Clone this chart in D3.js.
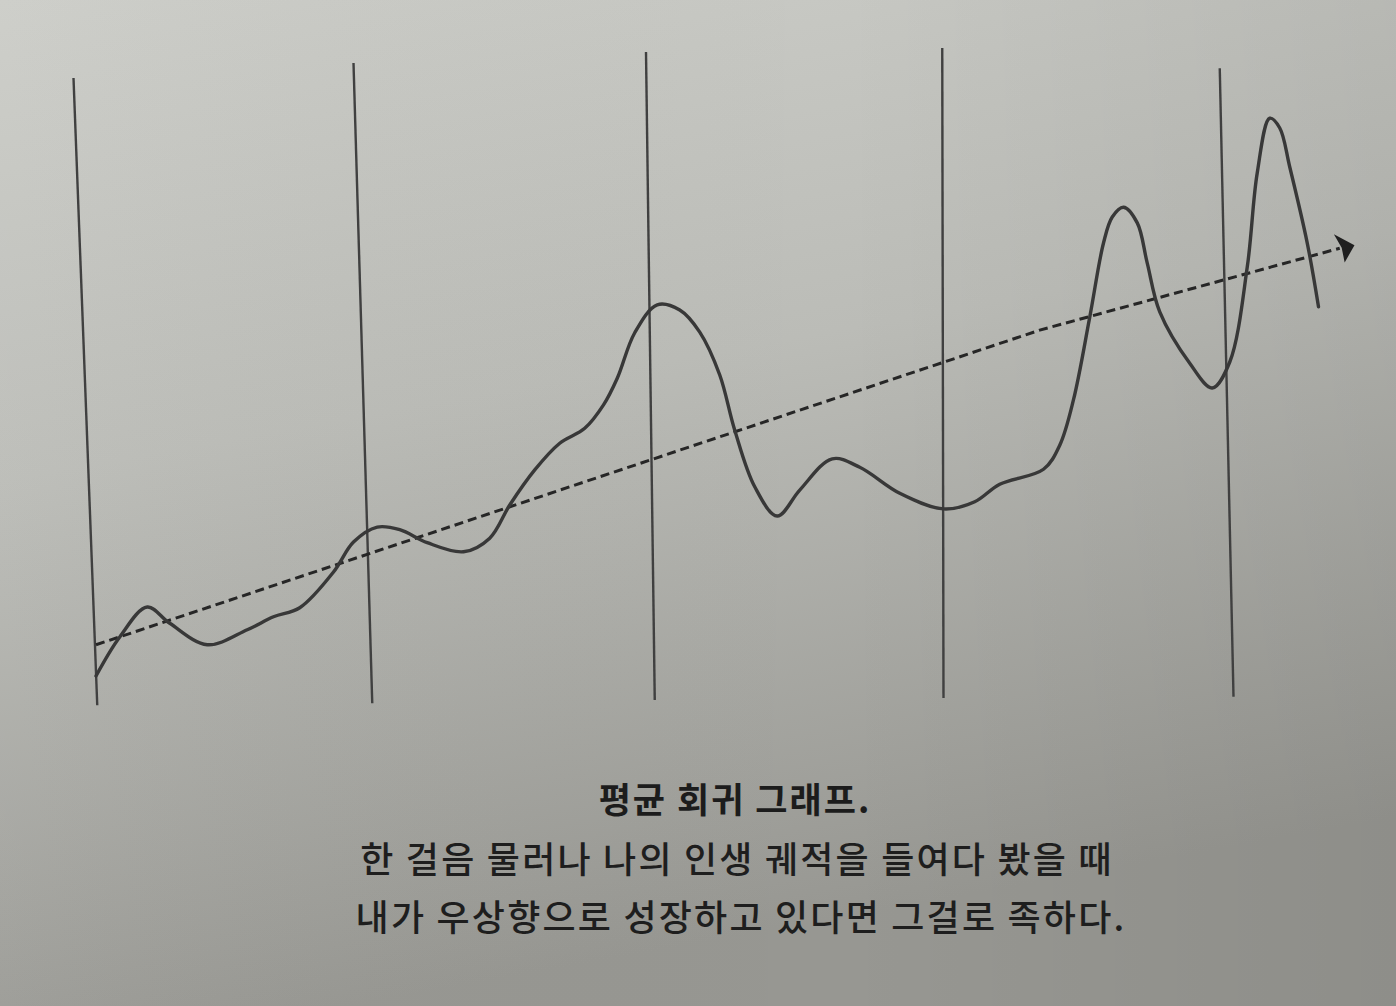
<!DOCTYPE html>
<html>
<head>
<meta charset="utf-8">
<script src="https://cdn.jsdelivr.net/npm/d3@7/dist/d3.min.js"></script>
<style>
  html, body { margin: 0; padding: 0; background: #b5b6b1; }
  svg { display: block; }
</style>
</head>
<body>
<svg id="chart" width="1396" height="1006"></svg>
<script>
// ---- data (x: time units 0..100, y: value units 0..100) ----
const lifeX = [0, 1.9, 4.1, 5.9, 8.9, 12.1, 14.2, 16.3, 19.0, 20.6, 22.5, 24.3, 26.5, 29.4, 31.5, 33.1, 35.1, 37.1, 39.1, 40.6, 41.7, 43.1, 44.9, 46.7, 48.3, 49.9, 51.1, 52.7, 54.5, 56.3, 58.9, 61.1, 64.3, 67.8, 70.3, 72.3, 75.8, 77.1, 78.2, 79.5, 80.6, 81.3, 82.2, 83.3, 84.1, 85.1, 87.5, 89.3, 90.7, 92.1, 92.9, 93.9, 94.7, 95.5, 96.9, 97.8];
const lifeY = [3.7, 9.7, 14.3, 11.8, 8.5, 10.8, 12.8, 14.2, 19.7, 24.3, 26.6, 26.2, 24.2, 22.8, 24.9, 30.0, 35.4, 39.5, 41.8, 45.4, 49.5, 56.5, 60.8, 60.0, 56.6, 50.0, 41.5, 32.8, 28.3, 32.3, 37.1, 35.8, 31.8, 29.4, 30.5, 33.2, 35.5, 39.2, 46.2, 58.9, 70.3, 74.3, 75.8, 73.4, 67.2, 59.7, 51.8, 48.0, 52.0, 66.6, 81.1, 89.5, 88.0, 82.0, 70.3, 60.5];

const trendX = [0, 75.5, 99.5];
const trendY = [8.5, 56.9, 69.5];

const sepTopX    = [-1.8, 20.6, 44.0, 67.7, 89.9];
const sepBottomX = [0.1, 22.1, 44.7, 67.8, 91.0];
const sepTopY    = [95.7, 98.0, 99.7, 100.3, 97.2];
const sepBottomY = [-0.8, -0.5, 0.0, 0.3, 0.5];

const titleText = "평균 회귀 그래프.";
const captionLines = [
  "한 걸음 물러나 나의 인생 궤적을 들여다 봤을 때",
  "내가 우상향으로 성장하고 있다면 그걸로 족하다."
];

// ---- drawing ----
const W = 1396, H = 1006;
const svg = d3.select("#chart");

const defs = svg.append("defs");
const bg = defs.append("linearGradient").attr("id", "bg")
  .attr("x1", "0").attr("y1", "0").attr("x2", "0.25").attr("y2", "1");
bg.append("stop").attr("offset", "0%").attr("stop-color", "#cccdc8");
bg.append("stop").attr("offset", "45%").attr("stop-color", "#bbbcb7");
bg.append("stop").attr("offset", "100%").attr("stop-color", "#979792");

const shade = defs.append("linearGradient").attr("id", "shade")
  .attr("x1", "0").attr("y1", "0").attr("x2", "1").attr("y2", "0");
shade.append("stop").attr("offset", "0%").attr("stop-color", "#ffffff").attr("stop-opacity", 0.04);
shade.append("stop").attr("offset", "60%").attr("stop-color", "#000000").attr("stop-opacity", 0);
shade.append("stop").attr("offset", "100%").attr("stop-color", "#000000").attr("stop-opacity", 0.06);

defs.append("marker")
  .attr("id", "arrow")
  .attr("viewBox", "-2 -18 20 36")
  .attr("refX", 0).attr("refY", 0)
  .attr("markerWidth", 20).attr("markerHeight", 36)
  .attr("markerUnits", "userSpaceOnUse")
  .attr("orient", "auto")
  .append("path")
  .attr("d", "M-2,-15 L15,1 L1,15 L2,0 Z")
  .attr("fill", "#1f1f1f");

svg.append("rect").attr("width", W).attr("height", H).attr("fill", "url(#bg)");
svg.append("rect").attr("width", W).attr("height", H).attr("fill", "url(#shade)");

const x = d3.scaleLinear().domain([0, 100]).range([96, 1346]);
const y = d3.scaleLinear().domain([0, 100]).range([700, 50]);

// separators
const seps = sepTopX.map((d, i) => ({ tx: d, bx: sepBottomX[i], ty: sepTopY[i], by: sepBottomY[i] }));
svg.append("g").selectAll("line").data(seps).join("line")
  .attr("x1", d => x(d.tx)).attr("y1", d => y(d.ty))
  .attr("x2", d => x(d.bx)).attr("y2", d => y(d.by))
  .attr("stroke", "#404040").attr("stroke-width", 2.4);

// trend line
const trend = trendX.map((d, i) => [d, trendY[i]]);
svg.append("path")
  .datum(trend)
  .attr("d", d3.line().x(d => x(d[0])).y(d => y(d[1])))
  .attr("fill", "none")
  .attr("stroke", "#262626")
  .attr("stroke-width", 3)
  .attr("stroke-dasharray", "9,5")
  .attr("marker-end", "url(#arrow)");

// life curve
const life = lifeX.map((d, i) => [d, lifeY[i]]);
svg.append("path")
  .datum(life)
  .attr("d", d3.line().x(d => x(d[0])).y(d => y(d[1])).curve(d3.curveCatmullRom.alpha(0.5)))
  .attr("fill", "none")
  .attr("stroke", "#383838")
  .attr("stroke-width", 3.4)
  .attr("stroke-linejoin", "round")
  .attr("stroke-linecap", "round");

// caption
const font = "'Noto Sans CJK KR', 'Noto Sans', sans-serif";
svg.append("text")
  .attr("x", 735).attr("y", 813)
  .attr("text-anchor", "middle")
  .attr("font-family", font)
  .attr("font-weight", 700)
  .attr("font-size", 35)
  .attr("letter-spacing", 2)
  .attr("fill", "#1c1c1c")
  .text(titleText);

svg.append("g").selectAll("text").data(captionLines).join("text")
  .attr("x", (d, i) => i === 0 ? 737 : 741)
  .attr("y", (d, i) => 873 + i * 58)
  .attr("text-anchor", "middle")
  .attr("font-family", font)
  .attr("font-weight", 500)
  .attr("font-size", 36)
  .attr("letter-spacing", 2.2)
  .attr("fill", "#1e1e1e")
  .text(d => d);
</script>
</body>
</html>
